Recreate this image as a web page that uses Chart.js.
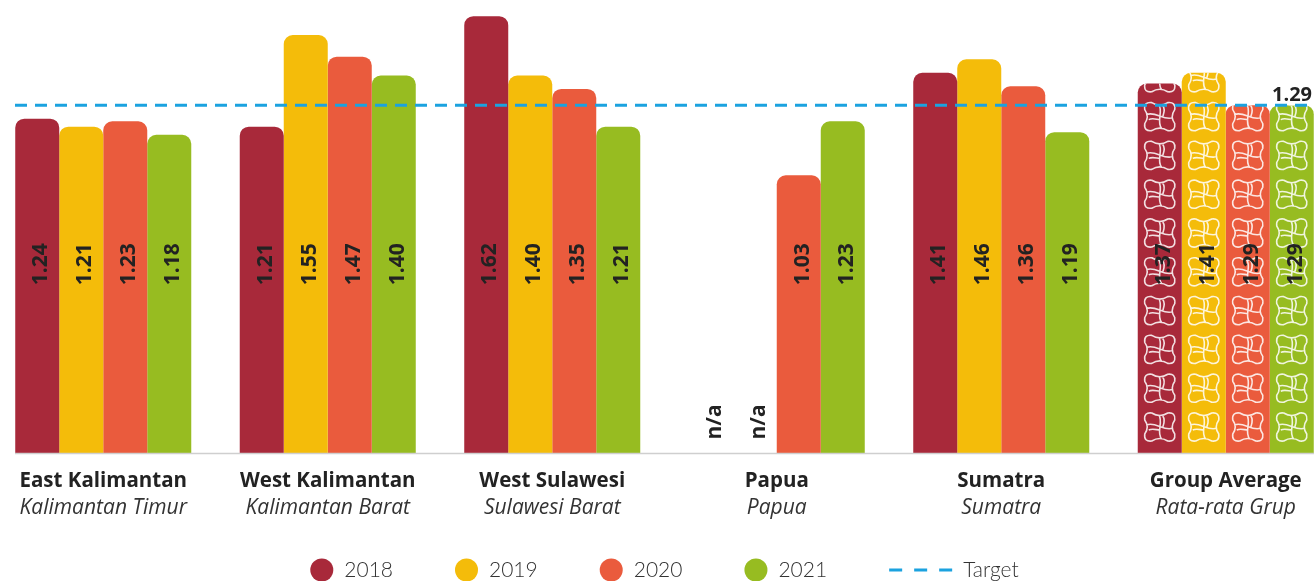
<!DOCTYPE html>
<html>
<head>
<meta charset="utf-8">
<title>Ratio by region</title>
<script src="https://cdn.jsdelivr.net/npm/chart.js@4/dist/chart.umd.min.js"></script>
<style>
  html, body { margin: 0; padding: 0; background: #fff; overflow: hidden; }
  #wrap { position: absolute; left: -9px; top: 0; width: 1347px; height: 581px; }
</style>
</head>
<body>
<div id="wrap"><canvas id="chart"></canvas></div>
<script>
// Regions (English / Indonesian)
const regions = ['East Kalimantan', 'West Kalimantan', 'West Sulawesi', 'Papua', 'Sumatra', 'Group Average'];
const regionsLocal = ['Kalimantan Timur', 'Kalimantan Barat', 'Sulawesi Barat', 'Papua', 'Sumatra', 'Rata-rata Grup'];

// Yearly values, null = n/a
const years = ['2018', '2019', '2020', '2021'];
const values2018 = [1.24, 1.21, 1.62, null, 1.41, 1.37];
const values2019 = [1.21, 1.55, 1.40, null, 1.46, 1.41];
const values2020 = [1.23, 1.47, 1.35, 1.03, 1.36, 1.29];
const values2021 = [1.18, 1.40, 1.21, 1.23, 1.19, 1.29];
const targetValue = 1.29;

const yearColors = ['#a8293a', '#f4bc0a', '#ea5b3d', '#97bc21'];
const targetColor = '#1ba2df';
const averageIndex = regions.length - 1;   // bars with the woven motif
const FONT = '"Open Sans", Lato, sans-serif';
const LEGEND_FONT = 'Lato, "Open Sans", sans-serif';

// one woven "cushion" motif, centred on cx/cy
function drawMotif(ctx, cx, cy) {
    const sx = 15, sy = 14, r = 7, dip = 2.5;
    ctx.save();
    ctx.translate(cx, cy);
    ctx.beginPath();
    ctx.moveTo(-sx, -sy + r);
    ctx.quadraticCurveTo(-sx - 1, -sy - 1, -sx + r, -sy);
    ctx.quadraticCurveTo(0, -sy + dip * 2, sx - r, -sy);
    ctx.quadraticCurveTo(sx + 1, -sy - 1, sx, -sy + r);
    ctx.quadraticCurveTo(sx - dip * 2, 0, sx, sy - r);
    ctx.quadraticCurveTo(sx + 1, sy + 1, sx - r, sy);
    ctx.quadraticCurveTo(0, sy - dip * 2, -sx + r, sy);
    ctx.quadraticCurveTo(-sx - 1, sy + 1, -sx, sy - r);
    ctx.quadraticCurveTo(-sx + dip * 2, 0, -sx, -sy + r);
    ctx.closePath();
    // pinwheel ribbons
    ctx.moveTo(-sx + 2, -2);
    ctx.bezierCurveTo(-5, -6, 5, 5, sx - 2, 1);
    ctx.moveTo(-sx + 4, 3);
    ctx.bezierCurveTo(-7, 1, -3, 3, 0, 3);
    ctx.moveTo(-1, -sy + 2);
    ctx.bezierCurveTo(4, -5, -4, 5, 2, sy - 2);
    ctx.moveTo(3, -sy + 3);
    ctx.bezierCurveTo(6, -7, 4, -3, 3, 0);
    ctx.stroke();
    ctx.restore();
}

const overlayPlugin = {
    id: 'overlay',
    afterDatasetsDraw(chart) {
        const ctx = chart.ctx;
        const xs = chart.scales.x, ys = chart.scales.y;
        const base = ys.getPixelForValue(0);

        // woven motif on the group average bars
        chart.data.datasets.forEach((ds, di) => {
            const bar = chart.getDatasetMeta(di).data[averageIndex];
            if (!bar || ds.data[averageIndex] == null) return;
            const w = bar.width;
            ctx.save();
            ctx.beginPath();
            ctx.roundRect(bar.x - w / 2, bar.y, w, base - bar.y, [9, 9, 0, 0]);
            ctx.clip();
            ctx.strokeStyle = 'rgba(255,255,255,0.85)';
            ctx.lineWidth = 1.6;
            for (let cy = base - 26; cy > bar.y - 20; cy -= 38.8) drawMotif(ctx, bar.x, cy);
            ctx.restore();
        });

        // rotated value labels
        ctx.save();
        ctx.fillStyle = '#222';
        ctx.font = 'bold 21px ' + FONT;
        ctx.textAlign = 'center';
        ctx.textBaseline = 'alphabetic';
        chart.data.datasets.forEach((ds, di) => {
            chart.getDatasetMeta(di).data.forEach((bar, i) => {
                const v = ds.data[i];
                const y = v == null ? ys.getPixelForValue(0.115) : ys.getPixelForValue(0.7);
                const text = v == null ? 'n/a' : v.toFixed(2);
                ctx.save();
                ctx.translate(bar.x + 10, y);
                ctx.rotate(-Math.PI / 2);
                ctx.fillText(text, 0, 0);
                ctx.restore();
            });
        });
        ctx.restore();

        // baseline
        ctx.save();
        ctx.strokeStyle = '#cfcfcf';
        ctx.lineWidth = 1.5;
        ctx.beginPath();
        ctx.moveTo(24, base + 0.5);
        ctx.lineTo(chart.width, base + 0.5);
        ctx.stroke();

        // target line and its value
        const ty = ys.getPixelForValue(targetValue);
        ctx.strokeStyle = targetColor;
        ctx.lineWidth = 3;
        ctx.setLineDash([12, 8]);
        ctx.beginPath();
        ctx.moveTo(24, ty);
        ctx.lineTo(chart.width, ty);
        ctx.stroke();
        ctx.setLineDash([]);
        ctx.fillStyle = '#222';
        ctx.font = 'bold 20px ' + FONT;
        ctx.textAlign = 'right';
        ctx.textBaseline = 'alphabetic';
        ctx.fillText(targetValue.toFixed(2), 1321, ty - 4);

        // two-line category labels
        ctx.textAlign = 'center';
        regions.forEach((name, i) => {
            const x = xs.getPixelForValue(i);
            ctx.fillStyle = '#222';
            ctx.font = 'bold 20.5px ' + FONT;
            ctx.fillText(name, x, 487);
            ctx.fillStyle = '#333';
            ctx.font = 'italic 21px ' + FONT;
            ctx.fillText(regionsLocal[i], x, 514);
        });

        // legend
        ctx.font = '300 21px ' + LEGEND_FONT;
        ctx.textBaseline = 'middle';
        ctx.textAlign = 'left';
        const ly = 570, dot = 23, gap = 11, spacing = 62, lineLen = 63;
        const items = years.map((y, i) => ({ text: y, color: yearColors[i], line: false }));
        items.push({ text: 'Target', color: targetColor, line: true });
        const widths = items.map(it => (it.line ? lineLen : dot) + gap + ctx.measureText(it.text).width);
        const total = widths.reduce((a, b) => a + b, 0) + spacing * (items.length - 1);
        let lx = chart.width / 2 - total / 2;
        items.forEach((it, i) => {
            if (it.line) {
                ctx.strokeStyle = it.color;
                ctx.lineWidth = 3;
                ctx.setLineDash([13, 12]);
                ctx.beginPath();
                ctx.moveTo(lx, ly);
                ctx.lineTo(lx + lineLen, ly);
                ctx.stroke();
                ctx.setLineDash([]);
                ctx.fillStyle = '#333';
                ctx.fillText(it.text, lx + lineLen + gap, ly);
            } else {
                ctx.fillStyle = it.color;
                ctx.beginPath();
                ctx.arc(lx + dot / 2, ly, dot / 2, 0, Math.PI * 2);
                ctx.fill();
                ctx.fillStyle = '#333';
                ctx.fillText(it.text, lx + dot + gap, ly);
            }
            lx += widths[i] + spacing;
        });
        ctx.restore();
    }
};

const seriesValues = [values2018, values2019, values2020, values2021];

new Chart(document.getElementById('chart'), {
    type: 'bar',
    data: {
        labels: regions,
        datasets: years.map((y, i) => ({
            label: y,
            data: seriesValues[i],
            backgroundColor: yearColors[i],
            borderWidth: 0,
            borderRadius: { topLeft: 9, topRight: 9, bottomLeft: 0, bottomRight: 0 },
            borderSkipped: false,
            barPercentage: 1,
            categoryPercentage: 0.784
        }))
    },
    options: {
        responsive: true,
        maintainAspectRatio: false,
        animation: false,
        layout: { padding: { top: 0, left: 0, right: 0, bottom: 128 } },
        scales: {
            x: { display: false },
            y: { display: false, min: 0, max: 1.68 }
        },
        plugins: {
            legend: { display: false },
            tooltip: { enabled: false }
        }
    },
    plugins: [overlayPlugin]
});
</script>
</body>
</html>
